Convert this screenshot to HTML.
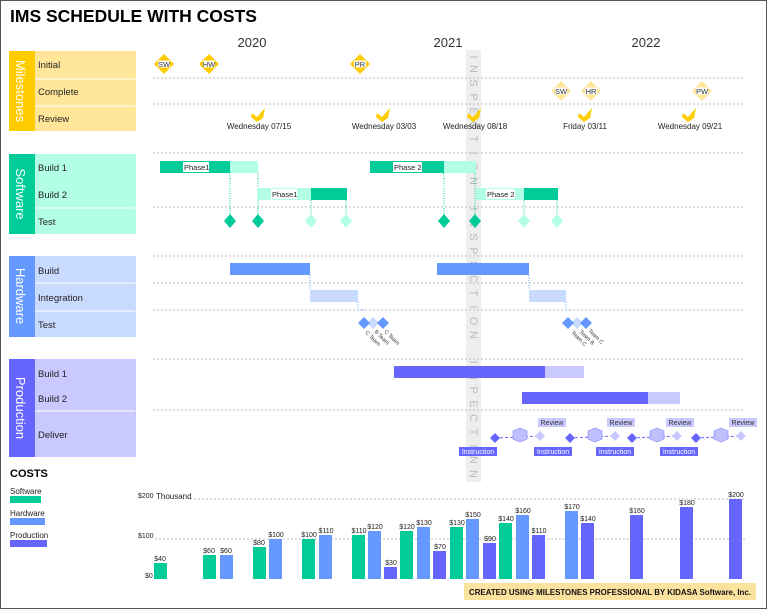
<!DOCTYPE html>
<html><head><meta charset="utf-8"><style>
html,body{margin:0;padding:0;background:#fff}
svg{display:block;font-family:"Liberation Sans",sans-serif}
</style></head><body>
<svg width="768" height="610" viewBox="0 0 768 610" xmlns="http://www.w3.org/2000/svg">
<rect x="0.5" y="0.5" width="766" height="608" fill="#fff" stroke="#555" stroke-width="1"/>
<text x="10" y="22" font-size="17.5" font-weight="bold" fill="#000">IMS SCHEDULE WITH COSTS</text>
<g font-size="13" fill="#333" text-anchor="middle"><text x="252" y="47">2020</text><text x="448" y="47">2021</text><text x="646" y="47">2022</text></g>

<!-- inspection band -->
<rect x="466" y="50" width="15" height="432" fill="#eeeeee"/>
<g font-size="11" fill="#bbb" text-anchor="middle">
<text transform="translate(470,57) rotate(90)">I</text>
<text transform="translate(470,69) rotate(90)">N</text>
<text transform="translate(470,83) rotate(90)">S</text>
<text transform="translate(470,97) rotate(90)">P</text>
<text transform="translate(470,111) rotate(90)">E</text>
<text transform="translate(470,125) rotate(90)">C</text>
<text transform="translate(470,139) rotate(90)">T</text>
<text transform="translate(470,153) rotate(90)">I</text>
<text transform="translate(470,167) rotate(90)">O</text>
<text transform="translate(470,181) rotate(90)">N</text>
<text transform="translate(470,209) rotate(90)">I</text>
<text transform="translate(470,223) rotate(90)">N</text>
<text transform="translate(470,237) rotate(90)">S</text>
<text transform="translate(470,251) rotate(90)">P</text>
<text transform="translate(470,265) rotate(90)">E</text>
<text transform="translate(470,279) rotate(90)">C</text>
<text transform="translate(470,293) rotate(90)">T</text>
<text transform="translate(470,307) rotate(90)">I</text>
<text transform="translate(470,321) rotate(90)">O</text>
<text transform="translate(470,335) rotate(90)">N</text>
<text transform="translate(470,362) rotate(90)">I</text>
<text transform="translate(470,376) rotate(90)">N</text>
<text transform="translate(470,390) rotate(90)">P</text>
<text transform="translate(470,404) rotate(90)">E</text>
<text transform="translate(470,418) rotate(90)">C</text>
<text transform="translate(470,432) rotate(90)">T</text>
<text transform="translate(470,446) rotate(90)">I</text>
<text transform="translate(470,460) rotate(90)">N</text>
<text transform="translate(470,474) rotate(90)">N</text>
</g>

<!-- gridlines -->
<g stroke="#bbb" stroke-dasharray="2,2" stroke-width="1">
<line x1="153" y1="78" x2="745" y2="78"/><line x1="153" y1="104" x2="745" y2="104"/>
<line x1="153" y1="153" x2="745" y2="153"/><line x1="153" y1="207" x2="745" y2="207"/>
<line x1="153" y1="256" x2="745" y2="256"/><line x1="153" y1="283" x2="745" y2="283"/><line x1="153" y1="310" x2="745" y2="310"/>
<line x1="153" y1="359" x2="745" y2="359"/><line x1="153" y1="410" x2="745" y2="410"/>
</g>

<!-- panels -->
<g font-size="9.5" fill="#222">
<rect x="9" y="51" width="127" height="80" fill="#ffe699"/><rect x="9" y="51" width="26" height="80" fill="#ffcc00"/>
<line x1="35" y1="79" x2="135" y2="79" stroke="#fff"/><line x1="35" y1="106" x2="135" y2="106" stroke="#fff"/>
<text x="38" y="68">Initial</text><text x="38" y="95">Complete</text><text x="38" y="122">Review</text>
<text transform="translate(16,91) rotate(90)" font-size="13" fill="#fff" text-anchor="middle">Milestones</text>

<rect x="9" y="154" width="127" height="80" fill="#b3ffe6"/><rect x="9" y="154" width="26" height="80" fill="#00cc99"/>
<line x1="35" y1="208" x2="135" y2="208" stroke="#fff"/>
<text x="38" y="171">Build 1</text><text x="38" y="198">Build 2</text><text x="38" y="225">Test</text>
<text transform="translate(16,194) rotate(90)" font-size="13" fill="#fff" text-anchor="middle">Software</text>

<rect x="9" y="256" width="127" height="81" fill="#c9daff"/><rect x="9" y="256" width="26" height="81" fill="#6699ff"/>
<line x1="35" y1="283" x2="135" y2="283" stroke="#fff"/><line x1="35" y1="311" x2="135" y2="311" stroke="#fff"/>
<text x="38" y="274">Build</text><text x="38" y="301">Integration</text><text x="38" y="328">Test</text>
<text transform="translate(16,296) rotate(90)" font-size="13" fill="#fff" text-anchor="middle">Hardware</text>

<rect x="9" y="359" width="127" height="98" fill="#c9c9ff"/><rect x="9" y="359" width="26" height="98" fill="#6666ff"/>
<line x1="35" y1="411" x2="135" y2="411" stroke="#fff"/>
<text x="38" y="377">Build 1</text><text x="38" y="402">Build 2</text><text x="38" y="438">Deliver</text>
<text transform="translate(16,408) rotate(90)" font-size="13" fill="#fff" text-anchor="middle">Production</text>
</g>

<!-- milestones -->
<g font-size="7.5" fill="#333" text-anchor="middle">
<g fill="#ffcc00"><path d="M164,54 l10,10 l-10,10 l-10,-10z"/><path d="M209,54 l10,10 l-10,10 l-10,-10z"/><path d="M360,54 l10,10 l-10,10 l-10,-10z"/></g>
<g fill="#ffe699"><path d="M561,81 l10,10 l-10,10 l-10,-10z"/><path d="M591,81 l10,10 l-10,10 l-10,-10z"/><path d="M702,81 l10,10 l-10,10 l-10,-10z"/></g>
<g fill="#fff"><rect x="158" y="60.5" width="12" height="7"/><rect x="203" y="60.5" width="12" height="7"/><rect x="354" y="60.5" width="12" height="7"/><rect x="555" y="87.5" width="12" height="7"/><rect x="585" y="87.5" width="12" height="7"/><rect x="696" y="87.5" width="12" height="7"/></g>
<text x="164" y="67">SW</text><text x="209" y="67">HW</text><text x="360" y="67">PR</text>
<text x="561" y="94">SW</text><text x="591" y="94">HR</text><text x="702" y="94">PW</text>
<g fill="#ffcc00">
<path d="M252,113 l5,4 l8,-9 l-2,10 l-6,4 l-6,-5z"/><path d="M377,113 l5,4 l8,-9 l-2,10 l-6,4 l-6,-5z"/><path d="M468,113 l5,4 l8,-9 l-2,10 l-6,4 l-6,-5z"/><path d="M579,113 l5,4 l8,-9 l-2,10 l-6,4 l-6,-5z"/><path d="M683,113 l5,4 l8,-9 l-2,10 l-6,4 l-6,-5z"/>
</g>
<g font-size="8" fill="#222"><text x="259" y="129">Wednesday 07/15</text><text x="384" y="129">Wednesday 03/03</text><text x="475" y="129">Wednesday 08/18</text><text x="585" y="129">Friday 03/11</text><text x="690" y="129">Wednesday 09/21</text></g>
</g>

<!-- software -->
<g stroke="#00cc99" stroke-dasharray="1,1.5" stroke-width="1"><line x1="230" y1="173" x2="230" y2="221"/><line x1="258" y1="173" x2="258" y2="221"/><line x1="311" y1="200" x2="311" y2="221"/><line x1="346" y1="200" x2="346" y2="221"/><line x1="444" y1="173" x2="444" y2="221"/><line x1="475" y1="173" x2="475" y2="221"/><line x1="524" y1="200" x2="524" y2="221"/><line x1="557" y1="200" x2="557" y2="221"/></g>
<rect x="160" y="161" width="70" height="12" fill="#00cc99"/><rect x="230" y="161" width="28" height="12" fill="#b3ffe6"/>
<rect x="370" y="161" width="74" height="12" fill="#00cc99"/><rect x="444" y="161" width="32" height="12" fill="#b3ffe6"/>
<rect x="257" y="188" width="54" height="12" fill="#b3ffe6"/><rect x="311" y="188" width="36" height="12" fill="#00cc99"/>
<rect x="476" y="188" width="48" height="12" fill="#b3ffe6"/><rect x="524" y="188" width="34" height="12" fill="#00cc99"/>
<g font-size="7.5" fill="#222"><rect x="183" y="162" width="26" height="10" fill="#fff"/><text x="184" y="170">Phase1</text>
<rect x="393" y="162" width="29" height="10" fill="#fff"/><text x="394" y="170">Phase 2</text>
<rect x="271" y="189" width="26" height="10" fill="#fff"/><text x="272" y="197">Phase1</text>
<rect x="486" y="189" width="29" height="10" fill="#fff"/><text x="487" y="197">Phase 2</text></g>
<g fill="#00cc99"><path d="M230,214 l6,7 l-6,7 l-6,-7z"/><path d="M258,214 l6,7 l-6,7 l-6,-7z"/><path d="M444,214 l6,7 l-6,7 l-6,-7z"/><path d="M475,214 l6,7 l-6,7 l-6,-7z"/></g>
<g fill="#b3ffe6"><path d="M311,214 l6,7 l-6,7 l-6,-7z"/><path d="M346,214 l6,7 l-6,7 l-6,-7z"/><path d="M524,214 l6,7 l-6,7 l-6,-7z"/><path d="M557,214 l6,7 l-6,7 l-6,-7z"/></g>

<!-- hardware -->
<g stroke="#6699ff" stroke-dasharray="1,1.5"><line x1="310" y1="275" x2="310" y2="290"/><line x1="358" y1="302" x2="358" y2="310"/><line x1="358" y1="310" x2="364" y2="310"/><line x1="529" y1="275" x2="529" y2="290"/><line x1="566" y1="302" x2="566" y2="310"/><line x1="566" y1="310" x2="569" y2="310"/></g>
<rect x="230" y="263" width="80" height="12" fill="#6699ff"/><rect x="310" y="290" width="48" height="12" fill="#c9daff"/>
<rect x="437" y="263" width="92" height="12" fill="#6699ff"/><rect x="529" y="290" width="37" height="12" fill="#c9daff"/>
<path d="M373,317 l6,6 l-6,6 l-6,-6z" fill="#c9daff"/><path d="M364,317 l6,6 l-6,6 l-6,-6z" fill="#6699ff"/><path d="M383,317 l6,6 l-6,6 l-6,-6z" fill="#6699ff"/>
<path d="M577,317 l6,6 l-6,6 l-6,-6z" fill="#c9daff"/><path d="M568,317 l6,6 l-6,6 l-6,-6z" fill="#6699ff"/><path d="M586,317 l6,6 l-6,6 l-6,-6z" fill="#6699ff"/>
<g font-size="5.5" fill="#333">
<text transform="translate(365,333) rotate(45)">C Team</text><text transform="translate(374,332) rotate(45)">B Team</text><text transform="translate(384,332) rotate(45)">C Team</text>
<text transform="translate(571,333) rotate(45)">Team C</text><text transform="translate(579,332) rotate(45)">Team B</text><text transform="translate(588,331) rotate(45)">Team C</text>
</g>

<!-- production -->
<rect x="394" y="366" width="151" height="12" fill="#6666ff"/><rect x="545" y="366" width="39" height="12" fill="#c9c9ff"/>
<rect x="522" y="392" width="126" height="12" fill="#6666ff"/><rect x="648" y="392" width="32" height="12" fill="#c9c9ff"/>
<g font-size="7" text-anchor="middle">
<g id="s1">
<line x1="495" y1="438" x2="540" y2="436" stroke="#6666ff" stroke-dasharray="3,2"/>
<path d="M495,433 l5,5 l-5,5 l-5,-5z" fill="#6666ff"/>
<path d="M513,431 l7,-3 l7,3 v8 l-7,3 l-7,-3z" fill="#c0c0ff" stroke="#8888ff" stroke-width="0.6"/>
<path d="M540,431 l5,5 l-5,5 l-5,-5z" fill="#c9c9ff"/>
</g>
<use href="#s1" transform="translate(75,0)"/><use href="#s1" transform="translate(137,0)"/><use href="#s1" transform="translate(201,0)"/>
<g fill="#c9c9ff"><rect x="538" y="418" width="28" height="9"/><rect x="607" y="418" width="28" height="9"/><rect x="666" y="418" width="28" height="9"/><rect x="729" y="418" width="28" height="9"/></g>
<g fill="#333"><text x="552" y="425">Review</text><text x="621" y="425">Review</text><text x="680" y="425">Review</text><text x="743" y="425">Review</text></g>
<g fill="#6666ff"><rect x="459" y="447" width="38" height="9"/><rect x="534" y="447" width="38" height="9"/><rect x="596" y="447" width="38" height="9"/><rect x="660" y="447" width="38" height="9"/></g>
<g fill="#fff"><text x="478" y="454">Instruction</text><text x="553" y="454">Instruction</text><text x="615" y="454">Instruction</text><text x="679" y="454">Instruction</text></g>
</g>

<!-- costs -->
<text x="10" y="477" font-size="11" font-weight="bold">COSTS</text>
<g font-size="8" fill="#222"><text x="10" y="494">Software</text><text x="10" y="516">Hardware</text><text x="10" y="538">Production</text></g>
<rect x="10" y="496" width="31" height="7" fill="#00cc99"/><rect x="10" y="518" width="35" height="7" fill="#6699ff"/><rect x="10" y="540" width="37" height="7" fill="#6666ff"/>
<g stroke="#bbb" stroke-dasharray="2,2"><line x1="190" y1="499" x2="745" y2="499"/><line x1="155" y1="539" x2="745" y2="539"/></g>
<g font-size="7" fill="#222"><text x="138" y="498">$200</text><text x="156" y="499" font-size="8">Thousand</text><text x="138" y="538">$100</text><text x="145" y="578">$0</text></g>
<g font-size="7" fill="#222" text-anchor="middle">
<rect x="154" y="563" width="13" height="16" fill="#00cc99"/><text x="160" y="561">$40</text>
<rect x="203" y="555" width="13" height="24" fill="#00cc99"/><text x="209" y="553">$60</text>
<rect x="220" y="555" width="13" height="24" fill="#6699ff"/><text x="226" y="553">$60</text>
<rect x="253" y="547" width="13" height="32" fill="#00cc99"/><text x="259" y="545">$80</text>
<rect x="269" y="539" width="13" height="40" fill="#6699ff"/><text x="276" y="537">$100</text>
<rect x="302" y="539" width="13" height="40" fill="#00cc99"/><text x="309" y="537">$100</text>
<rect x="319" y="535" width="13" height="44" fill="#6699ff"/><text x="326" y="533">$110</text>
<rect x="352" y="535" width="13" height="44" fill="#00cc99"/><text x="359" y="533">$110</text>
<rect x="368" y="531" width="13" height="48" fill="#6699ff"/><text x="375" y="529">$120</text>
<rect x="384" y="567" width="13" height="12" fill="#6666ff"/><text x="391" y="565">$30</text>
<rect x="400" y="531" width="13" height="48" fill="#00cc99"/><text x="407" y="529">$120</text>
<rect x="417" y="527" width="13" height="52" fill="#6699ff"/><text x="424" y="525">$130</text>
<rect x="433" y="551" width="13" height="28" fill="#6666ff"/><text x="440" y="549">$70</text>
<rect x="450" y="527" width="13" height="52" fill="#00cc99"/><text x="457" y="525">$130</text>
<rect x="466" y="519" width="13" height="60" fill="#6699ff"/><text x="473" y="517">$150</text>
<rect x="483" y="543" width="13" height="36" fill="#6666ff"/><text x="490" y="541">$90</text>
<rect x="499" y="523" width="13" height="56" fill="#00cc99"/><text x="506" y="521">$140</text>
<rect x="516" y="515" width="13" height="64" fill="#6699ff"/><text x="523" y="513">$160</text>
<rect x="532" y="535" width="13" height="44" fill="#6666ff"/><text x="539" y="533">$110</text>
<rect x="565" y="511" width="13" height="68" fill="#6699ff"/><text x="572" y="509">$170</text>
<rect x="581" y="523" width="13" height="56" fill="#6666ff"/><text x="588" y="521">$140</text>
<rect x="630" y="515" width="13" height="64" fill="#6666ff"/><text x="637" y="513">$160</text>
<rect x="680" y="507" width="13" height="72" fill="#6666ff"/><text x="687" y="505">$180</text>
<rect x="729" y="499" width="13" height="80" fill="#6666ff"/><text x="736" y="497">$200</text>
</g>
<rect x="464" y="583" width="292" height="17" fill="#fbe39f"/>
<text x="610" y="595" font-size="7.8" font-weight="bold" text-anchor="middle" fill="#111" textLength="282" lengthAdjust="spacingAndGlyphs">CREATED USING MILESTONES PROFESSIONAL BY KIDASA Software, Inc.</text>
</svg>
</body></html>
